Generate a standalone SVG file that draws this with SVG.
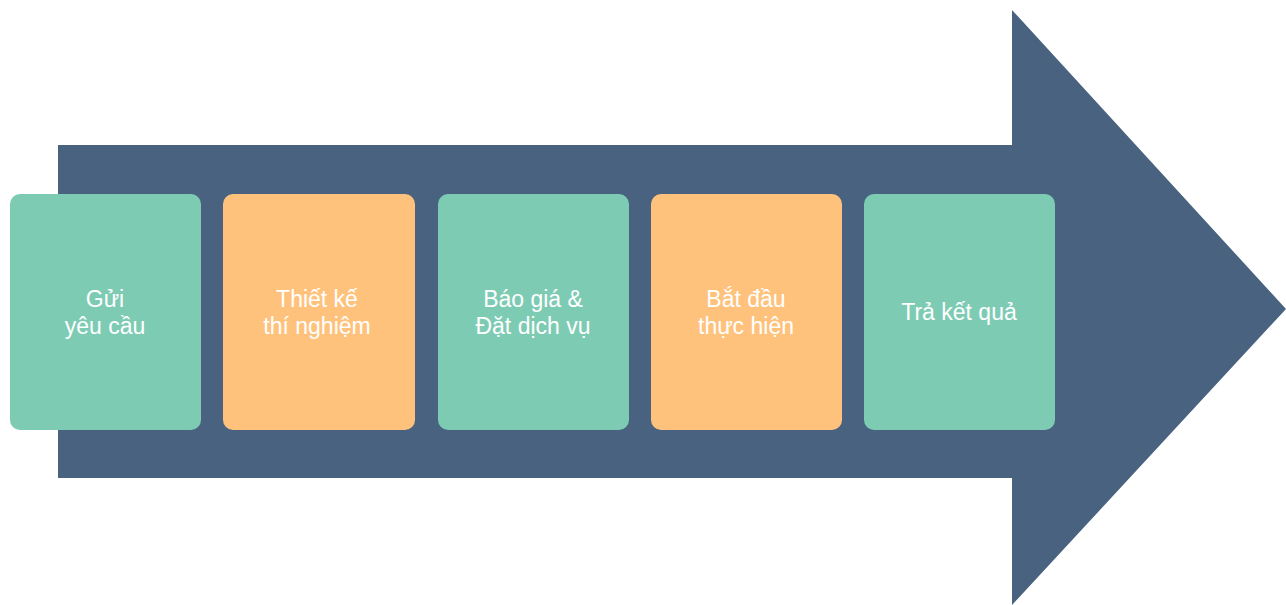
<svg xmlns="http://www.w3.org/2000/svg" width="1286" height="605" viewBox="0 0 1286 605">
<style>
.t{fill:#7ECBB4}.o{fill:#FFC27D}
text{font-family:"Liberation Sans",Arial,sans-serif;font-size:23px;fill:#fff;text-anchor:middle}
</style>
<rect width="1286" height="605" fill="#fff"/>
<g id="arrow"><polygon points="58,145 1012,145 1012,10 1286,309 1012,605 1012,478 58,478" fill="#48627F"/></g>
<g id="n1"><rect class="t" x="10" y="194" width="191" height="236" rx="10"/><text x="105" y="307">Gửi</text><text x="105" y="334">yêu cầu</text></g>
<g id="n2"><rect class="o" x="223" y="194" width="192" height="236" rx="10"/><text x="317" y="307">Thiết kế</text><text x="317" y="334">thí nghiệm</text></g>
<g id="n3"><rect class="t" x="438" y="194" width="191" height="236" rx="10"/><text x="533" y="307">Báo giá &amp;</text><text x="533" y="334">Đặt dịch vụ</text></g>
<g id="n4"><rect class="o" x="651" y="194" width="191" height="236" rx="10"/><text x="746" y="307">Bắt đầu</text><text x="746" y="334">thực hiện</text></g>
<g id="n5"><rect class="t" x="864" y="194" width="191" height="236" rx="10"/><text x="959" y="320">Trả kết quả</text></g>
<g id="connectors"/>
</svg>
